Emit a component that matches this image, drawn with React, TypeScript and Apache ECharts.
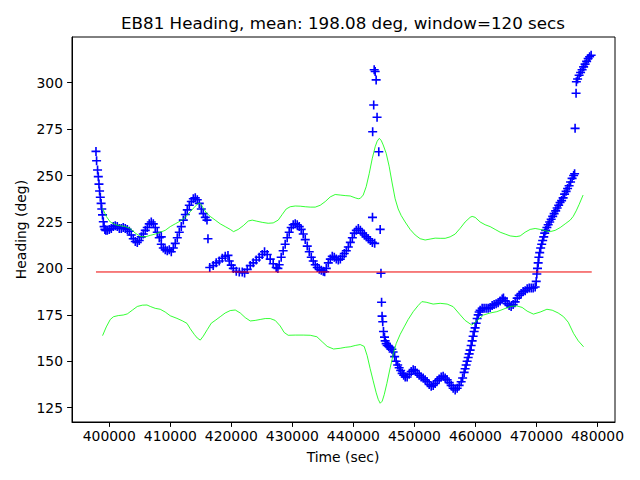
import { useEffect, useRef } from "react";
import * as echarts from "echarts";

// Heading samples (time in seconds, heading in degrees)
const headingTime = [
  397820, 397920, 398080, 398200, 398310, 398410, 398530, 398660, 398770, 398890,
  399020, 399150, 399280, 399430, 399670, 400000, 400330, 400660, 400980, 401310,
  401640, 401970, 402290, 402620, 402950, 403280, 403600, 403930, 404260, 404590,
  404910, 405240, 405570, 405900, 406220, 406550, 406880, 407210, 407530, 407860,
  408190, 408520, 408850, 409170, 409500, 409830, 410160, 410490, 410810, 411140,
  411470, 411800, 412130, 412460, 412780, 413110, 413440, 413770, 414090, 414420,
  414750, 415080, 415400, 415730, 416010, 408520, 416170,
  416460, 417030, 417520, 418020, 418510, 419000, 419450, 419660, 419990, 420320,
  420810, 421300, 421790, 422170, 422610, 423100, 423590, 424080, 424570, 425060,
  425440, 425880, 426370, 426860, 427350, 427630, 427840, 428170, 428490, 428820,
  429150, 429480, 429810, 430140, 430470, 430800, 431130, 431450, 431780, 432110,
  432440, 432770, 433100, 433420, 433750, 434080, 434410, 434740, 435070, 435290,
  435560, 435890, 436220, 436540, 436870, 437200, 437530, 437860, 438190, 438510,
  438840, 439170, 439500, 439830, 440150, 440480, 440810, 441140, 441470, 441800,
  442120, 442450, 442780, 443110, 443490,
  443130, 444390, 443410, 443570, 443730, 443330, 443880, 443160, 444160,
  444520, 444620, 444700, 444810, 444930, 445100, 445210, 445370, 445540, 445780,
  446030, 446300, 446510, 446760, 447010, 447260, 447500, 447750, 447990, 448240,
  448490, 448810, 449140, 449470, 449800, 450120, 450450, 450780, 451110, 451440,
  451760, 452090, 452420, 452750, 453080, 453400, 453730, 454060, 454390, 454710,
  455040, 455370, 455700, 456020, 456350, 456680, 457010, 457330, 457660, 457900,
  458150, 458310, 458480, 458640, 458810, 458970, 459130, 459300, 459460, 459620,
  459790, 459950, 460120, 460280, 460450, 460610, 460770, 461100, 461420, 461750,
  462080, 462410, 462740, 463060, 463390, 463720, 464050, 464380, 464590, 464870,
  465200, 465520, 465850, 466180, 466510, 466840, 467170, 467490, 467820, 468150,
  468480, 468810, 469140, 469460, 469790, 469960, 470060, 470170, 470280, 470400,
  470530, 470690, 470860, 471020, 471190, 471350, 471510, 471710, 471920, 472170,
  472410, 472660, 472900, 473150, 473390, 473640, 473870, 474120, 474370, 474610,
  474860, 475100, 475350, 475590, 475840, 476090, 476250, 476330, 476490, 476540,
  476740, 476990, 477230, 477480, 477730, 477970, 478220, 478470, 478710, 478960,
];
const headingDeg = [
  263, 258, 253, 249.4, 245.4, 241.7, 238.3, 235, 232, 228.8,
  225.1, 222.5, 221, 220.5, 220.5, 221, 221.5, 222.5, 223, 222.5,
  221.5, 221.5, 222, 221.5, 221, 220, 218, 216, 214.5, 214,
  215, 217, 218.5, 220.5, 222, 224, 225, 224, 222, 219.5,
  216.5, 213, 211, 210, 209.5, 210, 209, 211, 213.5, 216.5,
  219.5, 222.5, 226, 229, 231.5, 234, 236, 237.5, 238, 237,
  235, 232, 229.5, 227.5, 226, 217, 216,
  200.5, 201.5, 203, 204, 205.5, 206.5, 207, 204, 201.8, 200,
  198.5, 198, 198, 197.5, 199.5, 201.5, 203, 204.5, 206, 207.5,
  209, 207.5, 205, 202.5, 200.5, 200, 202, 206, 209.5, 213,
  216.5, 219.5, 222, 223.5, 224, 223.5, 222.5, 221, 218.5, 215.5,
  212, 209, 206, 204, 202, 200.5, 199.5, 199, 198.5, 198.2,
  200, 203, 205, 206.5, 206, 205, 204.5, 205, 206.5, 208,
  209.5, 211.5, 214, 216.5, 219, 220.5, 221.5, 220.5, 219, 218,
  217, 216, 215, 214, 213.5,
  227.5, 221, 307, 306, 301.5, 288, 281.4, 273.6, 262.8,
  197.4, 181.8, 174.3, 171.3, 166, 163, 161, 159.5, 158.5, 158,
  157.5, 156.5, 155, 152.5, 150, 148, 146.5, 145, 143.5, 142.5,
  141.5, 141.5, 143, 144.5, 145.5, 145, 143.5, 142.5, 141.5, 141,
  140, 139, 137.5, 136.5, 137, 138, 139.5, 140.5, 141.5, 142,
  141, 140, 138.5, 137, 135.5, 134.5, 135.5, 137, 139, 141,
  144, 146, 148, 150, 152, 154, 156, 158.5, 161, 163.5,
  166, 168, 170.5, 173, 175, 176.5, 177.5, 178.5, 178.5, 178.5,
  178.5, 179, 180, 180.5, 181, 181.5, 182.5, 183.5, 184, 182.5,
  181, 180, 179.5, 180.5, 182, 184, 185.5, 186.5, 187.5, 188,
  189, 189.5, 189.5, 189.5, 190, 193, 197, 200, 203, 206,
  208.5, 211, 213, 215, 217, 219, 220.5, 222, 223.5, 225,
  226.5, 228, 229.5, 231, 232.5, 234, 235.5, 236.5, 238, 240,
  241.5, 243, 244.5, 246.5, 248.5, 250, 251, 275.4, 294.3, 300.5,
  302, 304, 305.5, 307, 308.5, 310, 311.5, 313, 314, 314.8,
];

// Upper band (mean + spread over window)
const upperTime = [
  398900, 399510, 400160, 400980, 401800, 402620, 403440, 404260, 405080, 405900,
  406720, 407530, 408350, 409170, 409990, 410810, 411630, 412450, 413270, 414090,
  414580, 414910, 415400, 415890, 416540, 417360, 418180, 419000, 419820, 420360,
  421130, 421950, 422770, 423420, 424080, 425060, 426040, 426860, 427680, 428330,
  428990, 429650, 430470, 431290, 432110, 432930, 433750, 434570, 435390, 436210,
  437020, 437840, 438660, 439480, 440300, 440790, 441120, 441610, 442100, 442590,
  443080, 443570, 443900, 444230, 444550, 444880, 445370, 445860, 446350, 446840,
  447340, 447830, 448480, 449300, 450120, 450940, 451760, 452580, 453400, 454220,
  455040, 455860, 456680, 457500, 458310, 459130, 459460, 459950, 460770, 461590,
  462410, 463230, 464050, 464870, 465690, 466670, 467330, 468150, 468970, 469790,
  470610, 471430, 472250, 473070, 473890, 474710, 475530, 476020, 476510, 477000,
  477640,
];
const upperDeg = [
  232.4, 228, 225, 223.5, 223, 222.5, 221.5, 219, 217.2, 217,
  217.8, 218.5, 219.5, 220.5, 222.5, 224, 225.5, 227.5, 230.5, 233.5,
  235, 235, 232.5, 230, 228, 226, 224, 222.5, 221, 219.8,
  221, 223, 225.5, 226, 225.5, 224.8, 224.3, 224.5, 226, 229,
  232, 233.2, 233.6, 233.5, 233.2, 233, 233, 234, 236, 238.5,
  239.8, 239.5, 239.2, 239, 238, 237.5, 237.7, 239.5, 244, 251,
  259, 265.5, 268.5, 270, 269, 266.5, 262, 255, 246, 237.5,
  232, 228.5, 225, 221, 218, 216, 215.3, 215.8, 216.3, 216.2,
  216.2, 217, 218.5, 221.6, 225, 227.5, 228, 227.5, 225, 223.5,
  222.5, 221, 219.5, 218.5, 217.5, 217.1, 217.5, 219.5, 221, 221.5,
  221, 220.3, 219.8, 220.5, 222, 224, 226, 228, 231, 234.5,
  239.5,
];

// Lower band (mean - spread over window)
const lowerTime = [
  398900, 399510, 400160, 400700, 401470, 402290, 402950, 403770, 404590, 405410,
  406180, 406720, 407530, 408350, 409170, 409990, 411090, 411960, 412730, 413270,
  413920, 414420, 414910, 415400, 416050, 416710, 417360, 418180, 419000, 419820,
  420640, 421460, 422280, 423100, 423910, 424730, 425550, 426370, 427190, 428010,
  428660, 429320, 430470, 431780, 432930, 434020, 434890, 435710, 436750, 437840,
  438660, 439480, 440300, 441120, 441770, 442260, 442750, 443240, 443740, 444070,
  444390, 444720, 445050, 445490, 446030, 446520, 447010, 447670, 448320, 448980,
  449800, 450610, 451220, 451920, 453070, 454220, 455360, 456350, 457500, 458310,
  459410, 460120, 461320, 462410, 463500, 464540, 465690, 466780, 467650, 468470,
  469500, 470610, 471710, 472580, 473560, 474440, 475210, 476080, 476850, 477720,
];
const lowerDeg = [
  163.8, 168.5, 172.5, 174, 174.6, 174.9, 175.5, 177.5, 179.5, 180.2,
  180.3, 179.5, 178.5, 178, 176.5, 174.5, 173.1, 171.8, 170.4, 167.5,
  164.5, 162.5, 161.4, 163.5, 167, 170.5, 172, 174, 176, 177.3,
  177.6, 176, 173.5, 171.7, 172, 172.5, 173, 173, 172, 169,
  165.5, 164, 164.1, 164.1, 164, 163.2, 160.5, 158, 156.6, 157,
  157.5, 157.8, 158.5, 159, 158, 153, 146, 139.5, 133, 129.5,
  127.4, 128.5, 132, 138.1, 146.5, 153.5, 159.5, 164.5, 168.5, 172.5,
  176.7, 180, 182.1, 181.8, 180.8, 181.2, 180.8, 179.4, 175, 172,
  169.5, 171.5, 174.9, 176, 176.7, 178, 179.5, 179.8, 179, 177,
  175.4, 176.5, 178, 177.5, 176, 174, 171, 165, 161, 157.8,
];

const meanHeading = 198.08;
const xTicks = [400000, 410000, 420000, 430000, 440000, 450000, 460000, 470000, 480000];
const yTicks = [125, 150, 175, 200, 225, 250, 275, 300];

const titleText = "EB81 Heading, mean: 198.08 deg, window=120 secs";
const xName = "Time (sec)";
const yName = "Heading (deg)";

export default function App() {
  const ref = useRef<HTMLDivElement>(null);
  useEffect(() => {
    if (!ref.current) return;
    const chart = echarts.init(ref.current, null, { renderer: "svg" });
    const font = "DejaVu Sans";
    const plusPath = "path://M0,4.1H10V5.9H0Z M4.1,0H5.9V10H4.1Z";
    chart.setOption({
      animation: false,
      backgroundColor: "#ffffff",
      textStyle: { fontFamily: font },
      grid: {
        left: 72,
        right: 25,
        top: 37,
        bottom: 58,
        show: true,
        borderColor: "#000000",
        borderWidth: 1,
        backgroundColor: "transparent",
        containLabel: false,
      },
      xAxis: {
        type: "value",
        min: 393890,
        max: 482870,
        splitLine: { show: false },
        axisLine: { show: true, onZero: false, lineStyle: { color: "#000", width: 1 } },
        axisTick: { show: true, length: 4.9, lineStyle: { color: "#000", width: 1 }, customValues: xTicks },
        axisLabel: {
          customValues: xTicks,
          color: "#000",
          fontSize: 13.9,
          fontFamily: font,
          margin: 7,
          formatter: (v: number) => String(v),
        },
      },
      yAxis: {
        type: "value",
        min: 117.3,
        max: 324.6,
        splitLine: { show: false },
        axisLine: { show: true, onZero: false, lineStyle: { color: "#000", width: 1 } },
        axisTick: { show: true, length: 4.9, lineStyle: { color: "#000", width: 1 }, customValues: yTicks },
        axisLabel: {
          customValues: yTicks,
          color: "#000",
          fontSize: 13.9,
          fontFamily: font,
          margin: 9,
          formatter: (v: number) => String(v),
        },
      },
      graphic: [
        {
          type: "text",
          x: 343,
          y: 23,
          style: { text: titleText, fill: "#000", font: `16.7px "${font}"`, align: "center", verticalAlign: "middle" },
        },
        {
          type: "text",
          x: 343,
          y: 457,
          style: { text: xName, fill: "#000", font: `13.9px "${font}"`, align: "center", verticalAlign: "middle" },
        },
        {
          type: "text",
          x: 21,
          y: 229.5,
          rotation: Math.PI / 2,
          style: { text: yName, fill: "#000", font: `13.9px "${font}"`, align: "center", verticalAlign: "middle" },
        },
      ],
      series: [
        {
          type: "scatter",
          name: "heading",
          symbol: plusPath,
          symbolSize: 9,
          itemStyle: { color: "#0000ff", opacity: 1 },
          data: headingTime.map((t, i) => [t, headingDeg[i]]),
          silent: true,
        },
        {
          type: "line",
          name: "upper",
          showSymbol: false,
          symbol: "none",
          lineStyle: { color: "#00ff00", width: 0.8 },
          data: upperTime.map((t, i) => [t, upperDeg[i]]),
          silent: true,
        },
        {
          type: "line",
          name: "lower",
          showSymbol: false,
          symbol: "none",
          lineStyle: { color: "#00ff00", width: 0.8 },
          data: lowerTime.map((t, i) => [t, lowerDeg[i]]),
          silent: true,
        },
        {
          type: "line",
          name: "mean",
          showSymbol: false,
          symbol: "none",
          lineStyle: { color: "#ee0000", width: 1 },
          data: [
            [headingTime[0], meanHeading],
            [headingTime[headingTime.length - 1] + 100, meanHeading],
          ],
          silent: true,
        },
      ],
    });
    return () => chart.dispose();
  }, []);
  return (
    <div
      ref={ref}
      style={{ position: "fixed", left: 0, top: 0, width: 640, height: 480, background: "#fff" }}
    />
  );
}
